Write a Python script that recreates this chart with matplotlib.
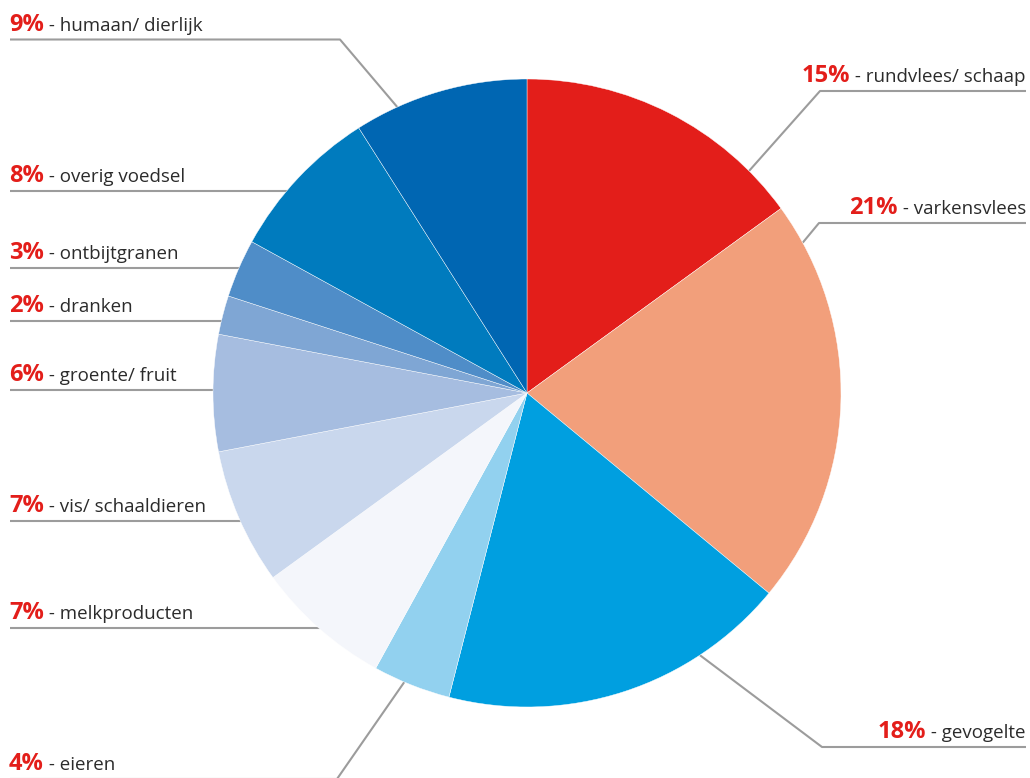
import math
import matplotlib
matplotlib.use("Agg")
import matplotlib.pyplot as plt

# ---- data ----
categories = ["rundvlees/ schaap", "varkensvlees", "gevogelte", "eieren",
              "melkproducten", "vis/ schaaldieren", "groente/ fruit",
              "dranken", "ontbijtgranen", "overig voedsel", "humaan/ dierlijk"]
values = [15, 21, 18, 4, 7, 7, 6, 2, 3, 8, 9]
colors = ["#E31E1A", "#F29F7B", "#009FE0", "#92D1EF", "#F4F6FB", "#C9D7ED",
          "#A6BDE0", "#7FA6D4", "#4F8DC8", "#007BBE", "#0066B2"]

# ---- layout (pixels) ----
W, H = 1030, 778
CX, CY, R = 527, 393, 314
# side, line y, corner x (None = straight to pie), edge angle (deg clockwise from top)
layout = {
    "rundvlees/ schaap": ("right", 91, 820, 45.0),
    "varkensvlees": ("right", 223, 819, 61.4),
    "gevogelte": ("right", 747, 822, 146.6),
    "eieren": ("left", 779, 337, 203.0),
    "melkproducten": ("left", 628, None, None),
    "vis/ schaaldieren": ("left", 521, None, None),
    "groente/ fruit": ("left", 390, None, None),
    "dranken": ("left", 321, None, None),
    "ontbijtgranen": ("left", 268, None, None),
    "overig voedsel": ("left", 190.5, None, None),
    "humaan/ dierlijk": ("left", 39.5, 340, 335.6),
}

FONT = "Open Sans"
RED = "#E31E1A"
TXT = "#2B2B2B"
LINE = "#9C9C9C"
PCT_SIZE = 17
NAME_SIZE = 13.5

fig = plt.figure(figsize=(W / 100, H / 100), dpi=100)
ax = fig.add_axes([0, 0, 1, 1])

ax.pie(values, colors=colors, startangle=-90, counterclock=True,
       center=(CX, CY), radius=R, frame=True,
       wedgeprops=dict(linewidth=0.3, edgecolor="white", zorder=3))
ax.set_xlim(0, W)
ax.set_ylim(H, 0)
ax.set_aspect("equal")
ax.axis("off")

renderer = fig.canvas.get_renderer()
inv = ax.transData.inverted()

for cat, val in zip(categories, values):
    side, ly, cx_, ang = layout[cat]
    # leader line
    if side == "left":
        x0 = 10
        if cx_ is None:
            dy = ly - CY
            xe = CX - math.sqrt(R * R - dy * dy) + 2
            xs, ys = [x0, xe], [ly, ly]
        else:
            a = math.radians(ang)
            xe, ye = CX + R * math.sin(a), CY - R * math.cos(a)
            xs, ys = [x0, cx_, xe], [ly, ly, ye]
    else:
        x0 = 1026
        a = math.radians(ang)
        xe, ye = CX + R * math.sin(a), CY - R * math.cos(a)
        xs, ys = [x0, cx_, xe], [ly, ly, ye]
    ax.plot(xs, ys, color=LINE, lw=1.5, zorder=1, solid_capstyle="butt")

    base = ly - 9
    pct = f"{val}%"
    name = f" - {cat}"
    if side == "left":
        t1 = ax.text(9, base, pct, color=RED, fontsize=PCT_SIZE, fontweight="bold",
                     family=FONT, ha="left", va="baseline")
        bb = t1.get_window_extent(renderer)
        xend = inv.transform((bb.x1, bb.y0))[0]
        ax.text(xend, base, name, color=TXT, fontsize=NAME_SIZE, family=FONT,
                ha="left", va="baseline")
    else:
        t2 = ax.text(1026, base, name, color=TXT, fontsize=NAME_SIZE, family=FONT,
                     ha="right", va="baseline")
        bb = t2.get_window_extent(renderer)
        xst = inv.transform((bb.x0, bb.y0))[0]
        ax.text(xst, base, pct, color=RED, fontsize=PCT_SIZE, fontweight="bold",
                family=FONT, ha="right", va="baseline")

fig.savefig("out.png", dpi=100, facecolor="white")
